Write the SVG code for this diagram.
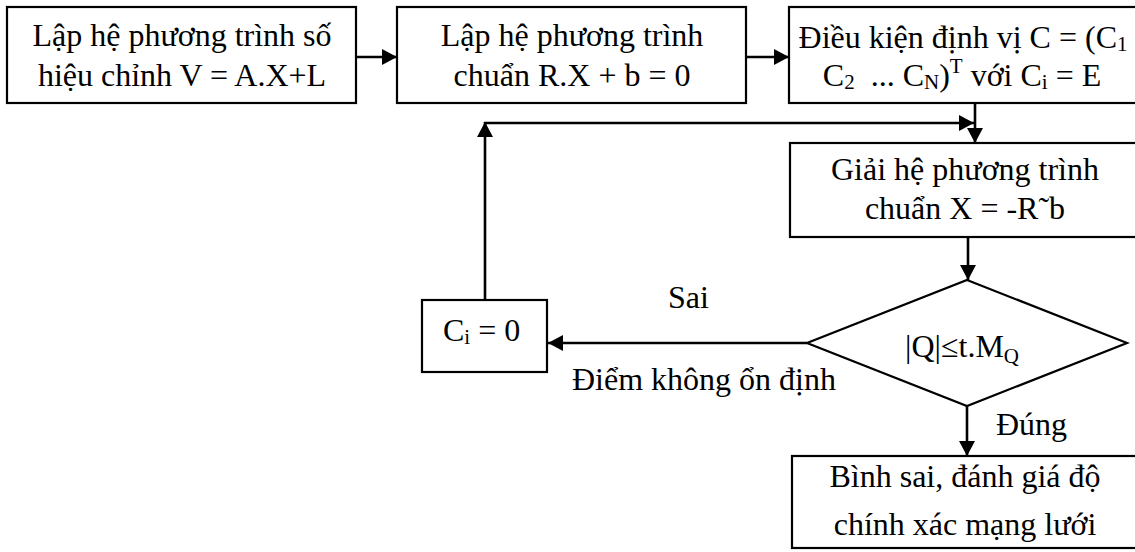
<svg xmlns="http://www.w3.org/2000/svg" width="1135" height="552" viewBox="0 0 1135 552">
  <style>
    .box { fill: #ffffff; stroke: #000000; stroke-width: 2.2; }
    .t { font-family: "Liberation Serif", "Times New Roman", serif; font-size: 32px; fill: #000000; }
    .c { text-anchor: middle; }
    .sub { font-size: 21px; }
    .wire { fill: none; stroke: #000000; stroke-width: 2.6; }
  </style>
  <defs>
    <marker id="arrow" viewBox="0 0 15 16" refX="15" refY="8" markerWidth="15" markerHeight="16" markerUnits="userSpaceOnUse" orient="auto">
      <path d="M0,0 L15,8 L0,16 z" fill="#000000"/>
    </marker>
  </defs>

  <rect width="1135" height="552" fill="#ffffff"/>

  <!-- connectors -->
  <g id="connectors">
    <line class="wire" x1="356" y1="57" x2="397" y2="57" marker-end="url(#arrow)"/>
    <line class="wire" x1="746" y1="57" x2="789" y2="57" marker-end="url(#arrow)"/>
    <line class="wire" x1="975" y1="103" x2="975" y2="143" marker-end="url(#arrow)"/>
    <line class="wire" x1="485" y1="300" x2="485" y2="122" marker-end="url(#arrow)"/>
    <line class="wire" x1="484" y1="123" x2="974" y2="123" marker-end="url(#arrow)"/>
    <line class="wire" x1="968" y1="237" x2="968" y2="280" marker-end="url(#arrow)"/>
    <line class="wire" x1="807" y1="343" x2="548" y2="343" marker-end="url(#arrow)"/>
    <line class="wire" x1="967" y1="406" x2="967" y2="456" marker-end="url(#arrow)"/>
  </g>

  <!-- edge labels -->
  <g id="labels">
    <text class="t" x="668" y="308">Sai</text>
    <text class="t" x="572" y="390">Điểm không ổn định</text>
    <text class="t" x="996" y="435">Đúng</text>
  </g>

  <g id="n1">
    <rect class="box" x="7" y="7" width="349" height="96"/>
    <text class="t c" x="182" y="46">Lập hệ phương trình số</text>
    <text class="t c" x="182" y="86">hiệu chỉnh V = A.X+L</text>
  </g>

  <g id="n2">
    <rect class="box" x="397" y="7" width="349" height="96"/>
    <text class="t c" x="572" y="46">Lập hệ phương trình</text>
    <text class="t c" x="572" y="86">chuẩn R.X + b = 0</text>
  </g>

  <g id="n3">
    <rect class="box" x="789" y="7" width="360" height="96"/>
    <text class="t c" x="963" y="48">Điều kiện định vị C = (C<tspan class="sub" dy="3">1</tspan></text>
    <text class="t c" x="962" y="86">C<tspan class="sub" dy="3">2</tspan><tspan dy="-3">&#160; ... C</tspan><tspan class="sub" dy="3">N</tspan><tspan dy="-3">)</tspan><tspan class="sub" dy="-13">T</tspan><tspan dy="13"> với C</tspan><tspan class="sub" dy="3">i</tspan><tspan dy="-3"> = E</tspan></text>
  </g>

  <g id="n4">
    <rect class="box" x="790" y="143" width="360" height="94"/>
    <text class="t c" x="965" y="180">Giải hệ phương trình</text>
    <text class="t c" x="965" y="219">chuẩn X = -R˜b</text>
  </g>

  <g id="n5">
    <polygon class="box" points="967,280 1127,343 967,406 807,343"/>
    <text class="t c" x="962" y="357">|Q|≤t.M<tspan class="sub" dy="6">Q</tspan></text>
  </g>

  <g id="n6">
    <rect class="box" x="422" y="300" width="125" height="72"/>
    <text class="t" x="443" y="341">C<tspan class="sub" dy="3">i</tspan><tspan dy="-3"> = 0</tspan></text>
  </g>

  <g id="n7">
    <rect class="box" x="792" y="456" width="360" height="92"/>
    <text class="t c" x="965" y="487">Bình sai, đánh giá độ</text>
    <text class="t c" x="965" y="535">chính xác mạng lưới</text>
  </g>
</svg>
